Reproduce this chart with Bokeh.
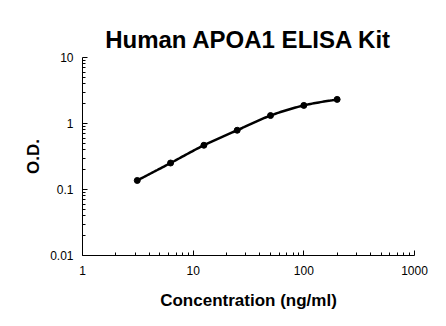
import numpy as np
from bokeh.plotting import figure
from bokeh.models import FixedTicker
from bokeh.embed import file_html
from bokeh.resources import INLINE

concentration = [3.125, 6.25, 12.5, 25, 50, 100, 200]
od = [0.137, 0.252, 0.468, 0.79, 1.32, 1.88, 2.32]
x_ticks = [1, 10, 100, 1000]
y_ticks = [0.01, 0.1, 1, 10]
minor_steps = [2, 3, 4, 5, 6, 7, 8, 9]

FONT = "Liberation Sans"

p = figure(width=446, height=326, x_axis_type="log", y_axis_type="log",
           x_range=(1, 1000), y_range=(0.01, 10),
           output_backend="svg", toolbar_location=None,
           min_border_left=82, min_border_right=32, min_border_top=57, min_border_bottom=71)
p.outline_line_color = None
p.grid.visible = False
p.background_fill_color = "white"

p.title.text = "Human APOA1 ELISA Kit"
p.title.align = "center"
p.title.text_font = FONT
p.title.text_font_size = "24px"
p.title.text_font_style = "bold"
p.title.text_color = "black"
p.title.standoff = 10

for ax, ticks in ((p.xaxis, x_ticks), (p.yaxis, y_ticks)):
    minors = [d * k for d in ticks[:-1] for k in minor_steps]
    ax.ticker = FixedTicker(ticks=ticks, minor_ticks=minors)
    ax.major_label_text_font = FONT
    ax.major_label_text_font_size = "12px"
    ax.major_label_text_color = "black"
    ax.axis_label_text_font = FONT
    ax.axis_label_text_font_size = "17px"
    ax.axis_label_text_font_style = "bold"
    ax.axis_label_text_color = "black"
    ax.axis_line_color = "black"
    ax.axis_line_width = 1
    ax.major_tick_in = 5
    ax.major_tick_out = 0
    ax.minor_tick_in = 3
    ax.minor_tick_out = 0
    ax.major_tick_line_color = "black"
    ax.minor_tick_line_color = "black"
    ax.minor_tick_line_width = 1

p.xaxis.axis_label = "Concentration (ng/ml)"
p.yaxis.axis_label = "O.D."
p.xaxis.major_label_standoff = 10
p.xaxis.axis_label_standoff = 13
p.yaxis.major_label_standoff = 9
p.yaxis.axis_label_standoff = 4
p.xaxis.major_label_overrides = {1: "1", 10: "10", 100: "100", 1000: "1000"}
p.yaxis.major_label_overrides = {0.01: "0.01", 0.1: "0.1", 1: "1", 10: "10"}

# smooth curve (Catmull-Rom in log space) through the data points
lx = np.log10(concentration)
ly = np.log10(od)
P = np.column_stack([lx, ly])
ext = np.vstack([2 * P[0] - P[1], P, 2 * P[-1] - P[-2]])
cx, cy = [], []
for i in range(1, len(ext) - 2):
    p0, p1, p2, p3 = ext[i - 1], ext[i], ext[i + 1], ext[i + 2]
    for t in np.linspace(0, 1, 20, endpoint=False):
        t2, t3 = t * t, t * t * t
        pt = 0.5 * ((2 * p1) + (-p0 + p2) * t + (2 * p0 - 5 * p1 + 4 * p2 - p3) * t2 + (-p0 + 3 * p1 - 3 * p2 + p3) * t3)
        cx.append(pt[0]); cy.append(pt[1])
cx.append(P[-1][0]); cy.append(P[-1][1])

p.line(10 ** np.array(cx), 10 ** np.array(cy), line_color="black", line_width=2.5)
p.scatter(concentration, od, size=6, fill_color="black", line_color="black")

open("out.html", "w").write(file_html(p, INLINE))
